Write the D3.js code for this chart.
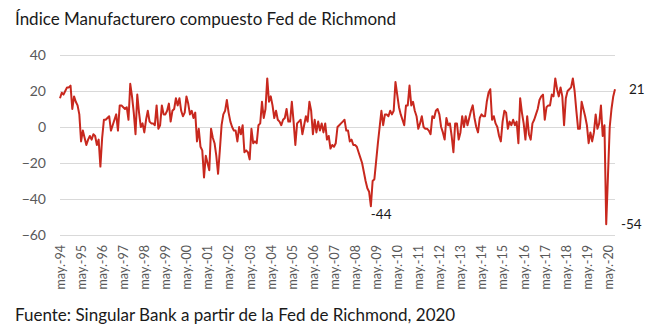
<!DOCTYPE html>
<html><head><meta charset="utf-8">
<script src="https://cdn.jsdelivr.net/npm/d3@7"></script>
<style>
html,body{margin:0;padding:0;background:#fff;}
svg{display:block;font-family:Lato,"Open Sans",sans-serif;}
</style></head>
<body><svg id="c" width="650" height="332"></svg>
<script>
// Monthly values, May 1994 .. Sep 2020
const startYear = 1994, startMonth = 4; // May 1994
const values = [
 16, 19, 18, 20, 22, 22, 23, 10, 17, 14,
 12, 7, -8, -2, -6, -10, -7, -5, -7, -4,
 -5, -10, -7, -22, -6, 4, 4, 5, 6, -2,
 1, 4, 7, -2, 12, 12, 11, 10, 11, 4,
 24, 17, 8, -4, 18, 8, 0, 2, -3, 4,
 9, 3, 2, 2, 1, 12, -1, 1, 12, 7,
 7, 9, 13, 3, 9, 10, 16, 12, 16, 9,
 6, 8, 17, 13, 7, 9, 5, 8, -8, -1,
 -11, -13, -28, -16, -20, -24, -1, -6, -9, -16,
 -26, -13, 1, 7, 9, 15, 8, 3, 0, -2,
 -2, -8, 0, -4, 1, -14, -13, -14, -18, -1,
 -9, -8, -9, 1, 2, 14, 5, 10, 27, 14,
 17, 12, 5, 9, 4, 3, 1, 4, 5, 10,
 3, 3, 14, 3, -10, 2, 3, 4, -4, 1,
 6, 3, 14, 9, -4, 4, -3, 3, -2, 2,
 -3, 2, -7, -5, -12, -10, -11, -9, 0, 1,
 2, 3, 4, -2, -2, -8, -7, -10, -10, -11,
 -14, -17, -20, -25, -30, -34, -36, -44, -30, -29,
 -19, -9, 0, 9, 1, 7, 7, 6, 9, 7,
 9, 25, 18, 11, 7, 4, 1, 12, 12, 23,
 12, 14, 9, 6, -1, 2, 6, 0, -1, -1,
 -2, -4, 6, 5, 9, 10, 7, 0, -3, -7,
 5, 1, 2, -5, -14, 2, 2, -7, -3, 6,
 0, 6, 1, 5, 9, 12, 5, 0, -3, 5,
 7, 6, 6, 14, 19, 21, 4, 6, 2, 0,
 -5, -8, 3, 9, 8, -1, 3, 1, 4, 1,
 3, -9, 16, 8, 2, -7, 6, -4, -7, 2,
 4, 7, 10, 15, 17, 18, 4, 11, 12, 12,
 18, 17, 27, 21, 17, 22, 17, 1, 16, 20,
 21, 22, 27, 20, 9, -1, -1, 14, 10, 6,
 1, -9, -3, -8, -3, 7, -1, 2, 12, -5,
 1, -54, -27, 0, 10, 17, 21
];
const xTickLabels = ["may.-94","may.-95","may.-96","may.-97","may.-98","may.-99","may.-00","may.-01","may.-02","may.-03","may.-04","may.-05","may.-06","may.-07","may.-08","may.-09","may.-10","may.-11","may.-12","may.-13","may.-14","may.-15","may.-16","may.-17","may.-18","may.-19","may.-20"];
const yTicks = [-60, -40, -20, 0, 20, 40];
const annotationLabels = ["-44", "-54", "21"];
const title = "Índice Manufacturero compuesto Fed de Richmond";
const source = "Fuente: Singular Bank a partir de la Fed de Richmond, 2020";

const svg = d3.select("#c");
const x = d3.scaleLinear().domain([0, values.length - 1]).range([60, 615]);
const y = d3.scaleLinear().domain([-60, 40]).range([235, 55]);

svg.append("text").attr("x", 15).attr("y", 25).attr("font-size", 17)
  .attr("fill", "#1a1a1a").text(title);

// grid + y labels
const yAxis = d3.axisLeft(y).tickValues(yTicks).tickSize(-(615 - 60)).tickPadding(14)
  .tickFormat(d3.format("d"));
const gy = svg.append("g").attr("transform", "translate(60,0)").call(yAxis);
gy.select(".domain").remove();
gy.selectAll(".tick line").attr("stroke", "#d9d9d9").attr("stroke-width", 1);
gy.selectAll(".tick text").attr("font-size", 14).attr("fill", "#595959")
  .attr("font-family", "Lato, 'Open Sans', sans-serif").attr("x", -14);

// x labels: every 12 months from May-94
const xTickIdx = xTickLabels.map((_, i) => i * 12);
const xAxis = d3.axisBottom(x).tickValues(xTickIdx).tickSize(0)
  .tickFormat((d, i) => xTickLabels[i]);
const gx = svg.append("g").attr("transform", "translate(0,243)").call(xAxis);
gx.select(".domain").remove();
gx.selectAll(".tick text")
  .attr("font-size", 12.5).attr("fill", "#595959")
  .attr("font-family", "Lato, 'Open Sans', sans-serif")
  .attr("transform", "rotate(-90)")
  .attr("text-anchor", "end").attr("x", -2).attr("y", 0).attr("dy", "0.35em");

// line
const line = d3.line().x((d, i) => x(i)).y(d => y(d));
svg.append("path").datum(values).attr("d", line)
  .attr("fill", "none").attr("stroke", "#c8281e").attr("stroke-width", 2)
  .attr("stroke-linejoin", "round");

// annotations
const iMin09 = d3.minIndex(values.slice(150, 200)) + 150;
const iMin20 = values.length - 6 + d3.minIndex(values.slice(values.length - 6));
const iLast = values.length - 1;
svg.append("text").attr("x", x(iMin09)).attr("y", y(values[iMin09]) + 13)
  .attr("font-size", 13.5).attr("fill", "#1a1a1a").text(annotationLabels[0]);
svg.append("text").attr("x", 621).attr("y", y(values[iMin20]) + 4.5)
  .attr("font-size", 13.5).attr("fill", "#1a1a1a").text(annotationLabels[1]);
svg.append("text").attr("x", 629).attr("y", y(values[iLast]) + 4.5)
  .attr("font-size", 13.5).attr("fill", "#1a1a1a").text(annotationLabels[2]);

svg.append("text").attr("x", 15).attr("y", 321).attr("font-size", 17)
  .attr("fill", "#1a1a1a").text(source);
</script></body></html>
